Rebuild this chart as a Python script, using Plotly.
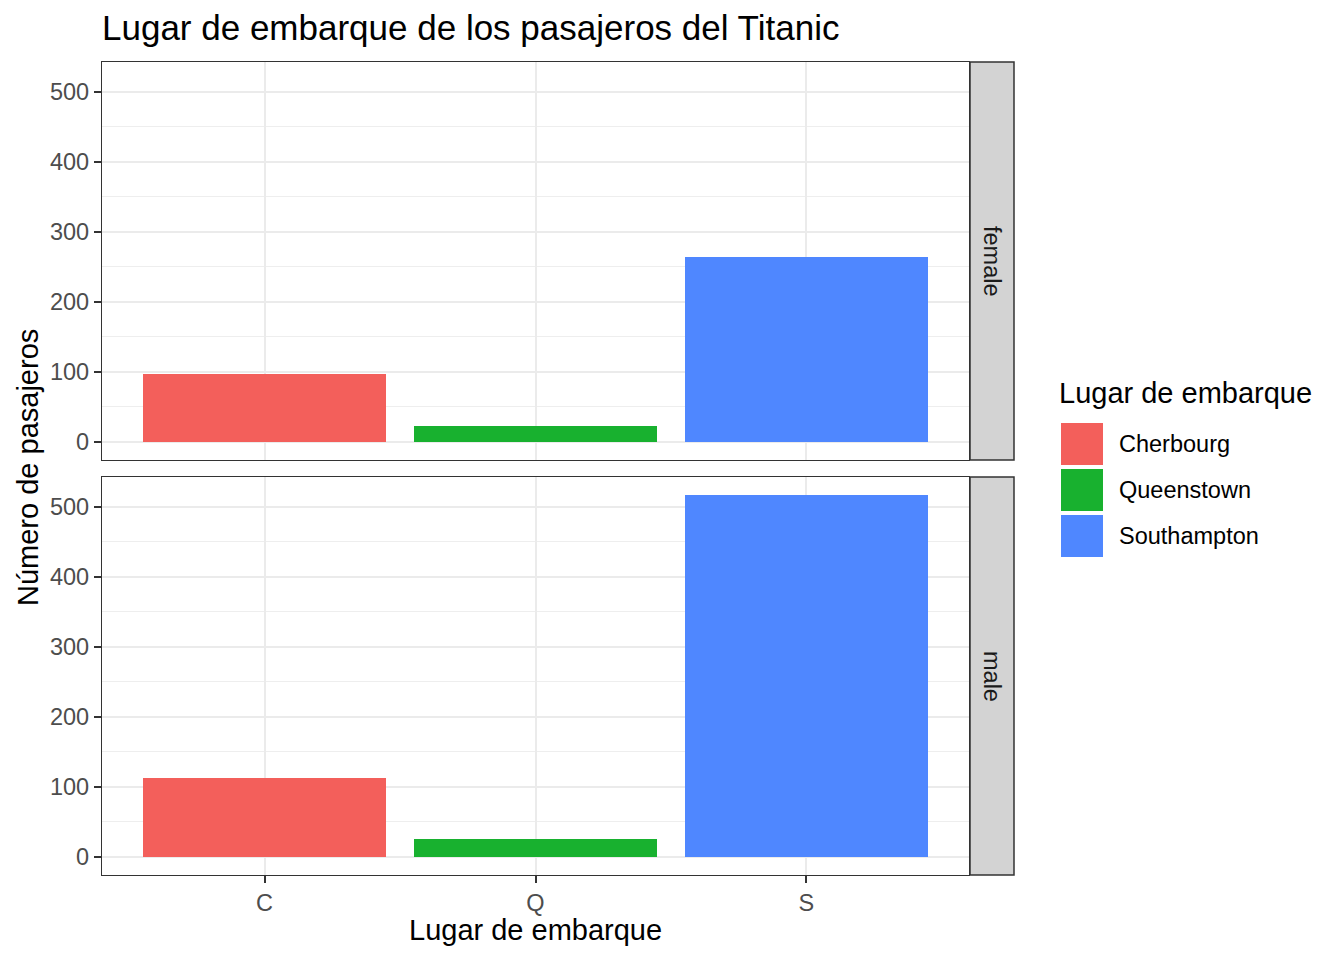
import plotly.graph_objects as go

categories = ["C", "Q", "S"]
port_names = ["Cherbourg", "Queenstown", "Southampton"]
colors = ["#F35F5B", "#18B12F", "#4F87FF"]
sexes = ["female", "male"]
female_counts = [97, 23, 264]
male_counts = [113, 25, 517]
counts = {"female": female_counts, "male": male_counts}

W, H = 1344, 960
OFF = 8  # page body margin
# plot area in screenshot pixels
L, R, T, B = 102, 1014, 62, 875
PW, PH = R - L, B - T

def px(x):
    return (x - L) / PW

def py(y):
    return (B - y) / PH

panel_right = px(969)
dom_top = [py(460), 1.0]
dom_bot = [0.0, py(477)]

fig = go.Figure()
for si, sex in enumerate(sexes):
    xa = "x" if si == 0 else "x2"
    ya = "y" if si == 0 else "y2"
    for ci, cat in enumerate(categories):
        fig.add_trace(go.Bar(
            x=[cat], y=[counts[sex][ci]], xaxis=xa, yaxis=ya,
            marker=dict(color=colors[ci], line=dict(width=0)),
            width=0.9, name=port_names[ci], showlegend=False,
        ))

font = "Liberation Sans, Arial, sans-serif"
ymax = max(max(female_counts), max(male_counts))
yrange = [-0.05 * ymax, 1.05 * ymax]
TICK = 23.5

common_x = dict(
    type="category", categoryorder="array", categoryarray=categories,
    range=[-0.6, 2.6], showgrid=True, gridcolor="#EBEBEB", gridwidth=2.2,
    showline=True, mirror=True, linecolor="#333333", linewidth=1.4,
    zeroline=False, domain=[0, panel_right],
    tickfont=dict(family=font, size=TICK, color="#4D4D4D"),
)
common_y = dict(
    range=yrange, tickvals=[0, 100, 200, 300, 400, 500],
    showgrid=True, gridcolor="#EBEBEB", gridwidth=2.2,
    minor=dict(tickvals=[50, 150, 250, 350, 450, 550], showgrid=True,
               gridcolor="#EEEEEE", gridwidth=1.3, ticks=""),
    showline=True, mirror=True, linecolor="#333333", linewidth=1.4,
    zeroline=False, ticks="outside", ticklen=7, tickcolor="#333333",
    tickwidth=2, ticklabelstandoff=0,
    tickfont=dict(family=font, size=TICK, color="#4D4D4D"),
)

fig.update_layout(
    width=W, height=H,
    margin=dict(l=L - OFF, r=W - (R - OFF), t=T - OFF, b=H - (B - OFF),
                pad=0, autoexpand=False),
    plot_bgcolor="white", paper_bgcolor="white",
    bargap=0, barmode="overlay",
    title=dict(text="Lugar de embarque de los pasajeros del Titanic",
               x=(L - OFF) / W, xanchor="left", y=1 - (28 - OFF) / H,
               yanchor="middle",
               font=dict(family=font, size=35, color="black")),
    xaxis=dict(**common_x, anchor="y", showticklabels=False, ticks=""),
    xaxis2=dict(**common_x, anchor="y2", ticks="outside", ticklen=7,
                tickcolor="#333333", tickwidth=2, ticklabelstandoff=0),
    yaxis=dict(**common_y, domain=dom_top, anchor="x"),
    yaxis2=dict(**common_y, domain=dom_bot, anchor="x2"),
    showlegend=False,
)

shapes = []
annotations = []
# facet strips
for si, (sex, dom) in enumerate(zip(sexes, [dom_top, dom_bot])):
    shapes.append(dict(type="rect", xref="paper", yref="paper",
                       x0=px(970), x1=1.0, y0=dom[0], y1=dom[1],
                       fillcolor="#D3D3D3", line=dict(color="#333333", width=1.5)))
    annotations.append(dict(text=sex, xref="paper", yref="paper",
                            x=(px(970) + 1.0) / 2, y=(dom[0] + dom[1]) / 2,
                            xanchor="center", yanchor="middle",
                            textangle=90, showarrow=False,
                            font=dict(family=font, size=TICK, color="#1A1A1A")))

# axis titles
annotations.append(dict(text="Lugar de embarque", xref="paper", yref="paper",
                        x=px(535), y=py(930), xanchor="center", yanchor="middle",
                        showarrow=False,
                        font=dict(family=font, size=29, color="black")))
annotations.append(dict(text="Número de pasajeros", xref="paper", yref="paper",
                        x=px(28), y=py(468), xanchor="center", yanchor="middle",
                        textangle=-90, showarrow=False,
                        font=dict(family=font, size=29, color="black")))

# legend (manual)
annotations.append(dict(text="Lugar de embarque", xref="paper", yref="paper",
                        x=px(1057), y=py(393), xanchor="left", yanchor="middle",
                        showarrow=False,
                        font=dict(family=font, size=29, color="black")))
for ci, name in enumerate(port_names):
    y0 = 423 + ci * 46
    shapes.append(dict(type="rect", xref="paper", yref="paper",
                       x0=px(1061), x1=px(1103), y0=py(y0 + 42), y1=py(y0),
                       fillcolor=colors[ci], line=dict(width=0)))
    annotations.append(dict(text=name, xref="paper", yref="paper",
                            x=px(1117), y=py(y0 + 21), xanchor="left",
                            yanchor="middle", showarrow=False,
                            font=dict(family=font, size=TICK, color="black")))

fig.update_layout(shapes=shapes, annotations=annotations)
fig.write_html("out.html")
